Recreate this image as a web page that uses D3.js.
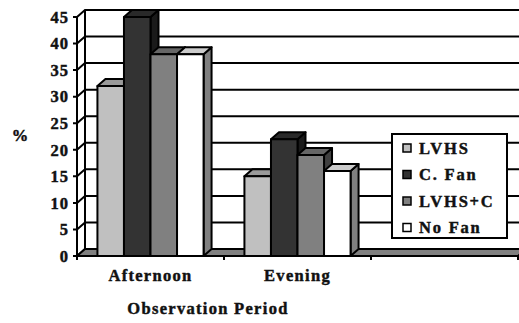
<!DOCTYPE html>
<html>
<head>
<meta charset="utf-8">
<script src="https://cdn.jsdelivr.net/npm/d3@7"></script>
<style>
  body { margin: 0; background: #fff; }
  svg { display: block; }
  text { font-family: "Liberation Serif", "Times New Roman", serif; font-weight: bold; fill: #111; stroke: #111; stroke-width: 0.45px; }
</style>
</head>
<body>
<svg id="chart" width="519" height="323"></svg>
<script>
// data
var periods = ["Afternoon", "Evening", ""];
var series = ["LVHS", "C. Fan", "LVHS+C", "No Fan"];
var afternoon = [32, 45, 38, 38];
var evening = [15, 22, 19, 16];
var yTicks = [0, 5, 10, 15, 20, 25, 30, 35, 40, 45];

// front / top / side shades per series
var fronts = ["#c0c0c0", "#333333", "#808080", "#ffffff"];
var tops = ["#9a9a9a", "#292929", "#666666", "#cccccc"];
var sides = ["#606060", "#1a1a1a", "#404040", "#808080"];

var svg = d3.select("#chart");
var dx = 8, dy = -7;

var x = d3.scaleBand().domain(periods).range([77, 518]);
var y = d3.scaleLinear().domain([0, 45]).range([256, 17]);
var inner = d3.scaleBand().domain(series).range([0, x.bandwidth()])
  .paddingInner(0).paddingOuter(0.77);

var rows = [
  { period: "Afternoon", values: afternoon },
  { period: "Evening", values: evening }
];

var x0 = x.range()[0], x1 = x.range()[1];
var poly = function(pts) { return "M" + pts.map(p => p.join(",")).join("L") + "Z"; };

// back wall
svg.append("path")
  .attr("d", poly([[x0 + dx, y(45) + dy], [x1 + dx + 20, y(45) + dy], [x1 + dx + 20, y(0) + dy], [x0 + dx, y(0) + dy]]))
  .attr("fill", "#fff");

// gridlines: diagonal across left wall, then along back wall
svg.append("g")
  .selectAll("path")
  .data(yTicks)
  .enter()
  .append("path")
  .attr("d", t => "M" + (x0 - 4) + "," + y(t) + "L" + x0 + "," + y(t) + "L" + (x0 + dx) + "," + (y(t) + dy) + "L" + (x1 + dx + 20) + "," + (y(t) + dy))
  .attr("fill", "none")
  .attr("stroke", "#000")
  .attr("stroke-width", 2);

// left wall edges
svg.append("line")
  .attr("x1", x0).attr("y1", y(0)).attr("x2", x0).attr("y2", y(45))
  .attr("stroke", "#000").attr("stroke-width", 2);
svg.append("line")
  .attr("x1", x0 + dx).attr("y1", y(0) + dy).attr("x2", x0 + dx).attr("y2", y(45) + dy)
  .attr("stroke", "#000").attr("stroke-width", 2);

// floor
svg.append("path")
  .attr("d", poly([[x0, y(0)], [x1, y(0)], [x1 + dx, y(0) + dy], [x0 + dx, y(0) + dy]]))
  .attr("fill", "#808080")
  .attr("stroke", "#000")
  .attr("stroke-width", 2)
  .attr("stroke-linejoin", "miter");

// category ticks
svg.append("g")
  .selectAll("line")
  .data(periods.map(p => x(p)).concat([x1]))
  .enter()
  .append("line")
  .attr("x1", d => d).attr("x2", d => d)
  .attr("y1", y(0)).attr("y2", y(0) + 4)
  .attr("stroke", "#000").attr("stroke-width", 2);

// bars
rows.forEach(r => {
  r.values.forEach((v, i) => {
    var bx = x(r.period) + inner(series[i]);
    var bw = inner.bandwidth();
    var top = y(v), base = y(0);
    var g = svg.append("g")
      .attr("stroke", "#000")
      .attr("stroke-width", 2)
      .attr("stroke-linejoin", "round");
    g.append("path")
      .attr("d", poly([[bx + bw, base], [bx + bw + dx, base + dy], [bx + bw + dx, top + dy], [bx + bw, top]]))
      .attr("fill", sides[i]);
    g.append("path")
      .attr("d", poly([[bx, top], [bx + bw, top], [bx + bw + dx, top + dy], [bx + dx, top + dy]]))
      .attr("fill", tops[i]);
    g.append("rect")
      .attr("x", bx).attr("y", top)
      .attr("width", bw).attr("height", base - top)
      .attr("fill", fronts[i]);
  });
});

// y tick labels
svg.append("g")
  .selectAll("text")
  .data(yTicks)
  .enter()
  .append("text")
  .attr("x", 69)
  .attr("y", t => y(t))
  .attr("dy", "0.35em")
  .attr("text-anchor", "end")
  .attr("font-size", 16.5)
  .attr("letter-spacing", 1)
  .text(t => t);

svg.append("text")
  .attr("x", 20).attr("y", 135).attr("dy", "0.35em")
  .attr("text-anchor", "middle")
  .attr("font-size", 16.5)
  .text("%");

// category labels
svg.append("g")
  .selectAll("text")
  .data(periods.filter(p => p))
  .enter()
  .append("text")
  .attr("x", p => x(p) + x.bandwidth() / 2)
  .attr("y", 281)
  .attr("text-anchor", "middle")
  .attr("font-size", 16.5)
  .attr("letter-spacing", 1.3)
  .text(p => p);

svg.append("text")
  .attr("x", 208).attr("y", 314)
  .attr("text-anchor", "middle")
  .attr("font-size", 16.5)
  .attr("letter-spacing", 1.3)
  .text("Observation Period");

// legend
var legend = svg.append("g");
legend.append("rect")
  .attr("x", 392).attr("y", 134)
  .attr("width", 115).attr("height", 104)
  .attr("fill", "#fff")
  .attr("stroke", "#000")
  .attr("stroke-width", 2);

var items = legend.selectAll("g.item")
  .data(series)
  .enter()
  .append("g")
  .attr("class", "item")
  .attr("transform", (d, i) => "translate(0," + (148 + i * 26.5) + ")");

items.append("rect")
  .attr("x", 403).attr("y", -4)
  .attr("width", 8).attr("height", 8)
  .attr("fill", (d, i) => fronts[i])
  .attr("stroke", "#000")
  .attr("stroke-width", 1.5);

items.append("text")
  .attr("x", 419)
  .attr("dy", "0.35em")
  .attr("font-size", 16.5)
  .attr("letter-spacing", 1.8)
  .text(d => d);
</script>
</body>
</html>
